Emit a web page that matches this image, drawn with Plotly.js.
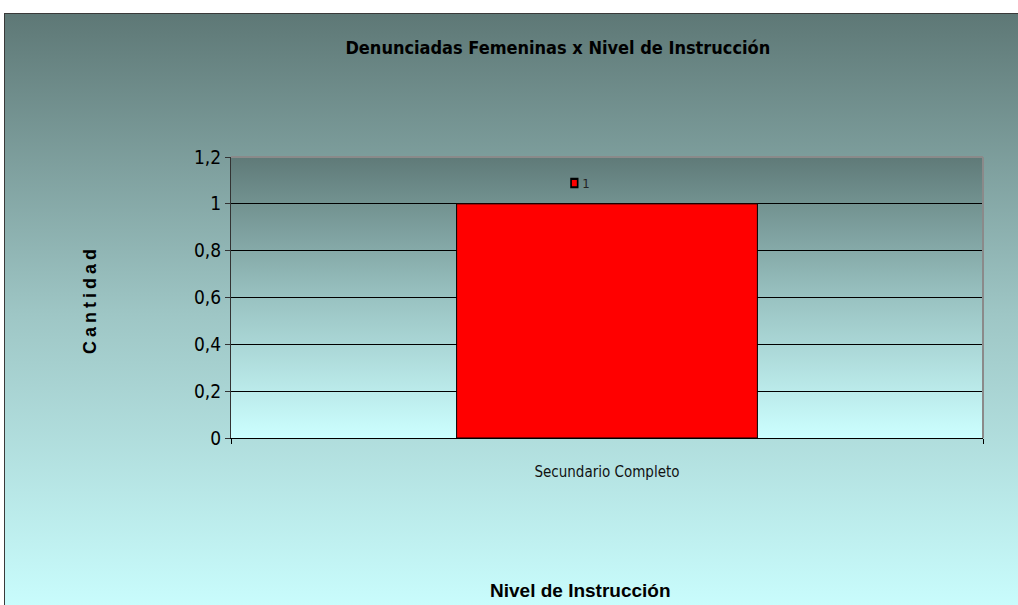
<!DOCTYPE html>
<html>
<head>
<meta charset="utf-8">
<script src="https://cdn.plot.ly/plotly-3.0.1.min.js"></script>
<style>
  body { margin: 0; width: 1018px; height: 605px; overflow: hidden; position: relative; background: #fff; }
  #frame {
    position: absolute; left: 4px; top: 13px; width: 1030px; height: 600px;
    border: 1px solid #3a3a3a;
    background: linear-gradient(to bottom, #5e7876 0%, #9ec6c5 50%, #cafefe 100%);
  }
  #plot { position: absolute; left: 0; top: 0; width: 1018px; height: 605px; }
</style>
</head>
<body>
<div id="frame"></div>
<div id="plot"></div>
<script>
const categories = ["Secundario Completo"];
const seriesName = "1";
const values = [1];
const yTickVals = [0, 0.2, 0.4, 0.6, 0.8, 1, 1.2];
const yTickText = ["0", "0,2", "0,4", "0,6", "0,8", "1", "1,2"];

const narrow = "'Liberation Sans Narrow', 'DejaVu Sans Condensed', 'Liberation Sans', sans-serif";

// gradient for the plot area, as an inline svg
const plotGradient =
  "data:image/svg+xml;utf8," +
  encodeURIComponent(
    '<svg xmlns="http://www.w3.org/2000/svg" width="10" height="100" preserveAspectRatio="none">' +
      '<defs><linearGradient id="g" x1="0" y1="0" x2="0" y2="1">' +
      '<stop offset="0" stop-color="#5f7a78"/>' +
      '<stop offset="0.5" stop-color="#99c2c1"/>' +
      '<stop offset="1" stop-color="#ccffff"/>' +
      "</linearGradient></defs>" +
      '<rect width="10" height="100" fill="url(#g)"/></svg>'
  );

const trace = {
  type: "bar",
  x: categories,
  y: values,
  name: seriesName,
  width: 0.4,
  marker: { color: "#ff0000", line: { color: "#000000", width: 1 } },
  hoverinfo: "none",
};

const layout = {
  width: 1018,
  height: 605,
  margin: { l: 231, r: 35, t: 157, b: 167 },
  paper_bgcolor: "rgba(0,0,0,0)",
  plot_bgcolor: "rgba(0,0,0,0)",
  separators: ",.",
  font: { family: narrow, color: "#000" },
  title: {
    text: "<b>Denunciadas Femeninas x Nivel de Instrucción</b>",
    font: { family: narrow, size: 18, color: "#000" },
    xref: "container",
    yref: "container",
    x: 0.548,
    y: 1 - 48 / 605,
    xanchor: "center",
    yanchor: "middle",
  },
  showlegend: true,
  legend: {
    x: 0.43,
    y: 0.907,
    xanchor: "left",
    yanchor: "middle",
    bgcolor: "rgba(0,0,0,0)",
    font: { family: narrow, size: 13, color: "#222" },
    itemwidth: 30,
  },
  xaxis: {
    type: "category",
    range: [-0.5, 0.5],
    showline: true,
    linecolor: "#000",
    linewidth: 1,
    ticks: "outside",
    tickson: "boundaries",
    ticklen: 5,
    tickcolor: "#000",
    showgrid: false,
    ticklabelstandoff: 20,
    tickfont: { family: narrow, size: 15, color: "#111" },
    fixedrange: true,
  },
  yaxis: {
    range: [0, 1.2],
    tickvals: yTickVals,
    ticktext: yTickText,
    showline: true,
    linecolor: "#333",
    linewidth: 1,
    ticks: "outside",
    ticklen: 5,
    tickcolor: "#333",
    showgrid: true,
    gridcolor: "#000",
    gridwidth: 1,
    zeroline: false,
    tickfont: { family: narrow, size: 19, color: "#000" },
    fixedrange: true,
  },
  images: [
    {
      source: plotGradient,
      xref: "paper",
      yref: "paper",
      x: 0,
      y: 1,
      sizex: 1,
      sizey: 1,
      sizing: "stretch",
      xanchor: "left",
      yanchor: "top",
      layer: "below",
    },
  ],
  shapes: [
    // grey border on top and right of plot area
    { type: "line", xref: "paper", yref: "paper", x0: 0, x1: 1, y0: 1, y1: 1, line: { color: "#8a8a8a", width: 2 } },
    { type: "line", xref: "paper", yref: "paper", x0: 1, x1: 1, y0: 0, y1: 1, line: { color: "#8a8a8a", width: 2 } },
  ],
  annotations: [
    {
      text: "<b>Cantidad</b>",
      xref: "paper",
      yref: "paper",
      x: (90 - 231) / 752,
      y: (438 - 300) / 281,
      textangle: -90,
      showarrow: false,
      font: { family: "'Liberation Sans', Arial, sans-serif", size: 18, color: "#000" },
      xanchor: "center",
      yanchor: "middle",
    },
    {
      text: "<b>Nivel de Instrucción</b>",
      xref: "paper",
      yref: "paper",
      x: (580 - 231) / 752,
      y: (438 - 590) / 281,
      showarrow: false,
      font: { family: "'Liberation Sans', Arial, sans-serif", size: 19, color: "#000" },
      xanchor: "center",
      yanchor: "middle",
    },
  ],
};

Plotly.newPlot("plot", [trace], layout, { staticPlot: true }).then(() => {
  // letter spacing of the y axis title, like the original
  const cant = document.querySelectorAll(".annotation-text")[0];
  if (cant) cant.setAttribute("letter-spacing", "4");

  // small legend key, with its label close to it
  document.querySelectorAll(".legendpoints path").forEach((p) => {
    p.setAttribute("transform", "translate(20,0) scale(0.55,0.7)");
    p.style.strokeWidth = "3px";
  });
  document.querySelectorAll(".legendtext").forEach((t) => {
    t.setAttribute("x", "28");
  });
});
</script>
</body>
</html>
